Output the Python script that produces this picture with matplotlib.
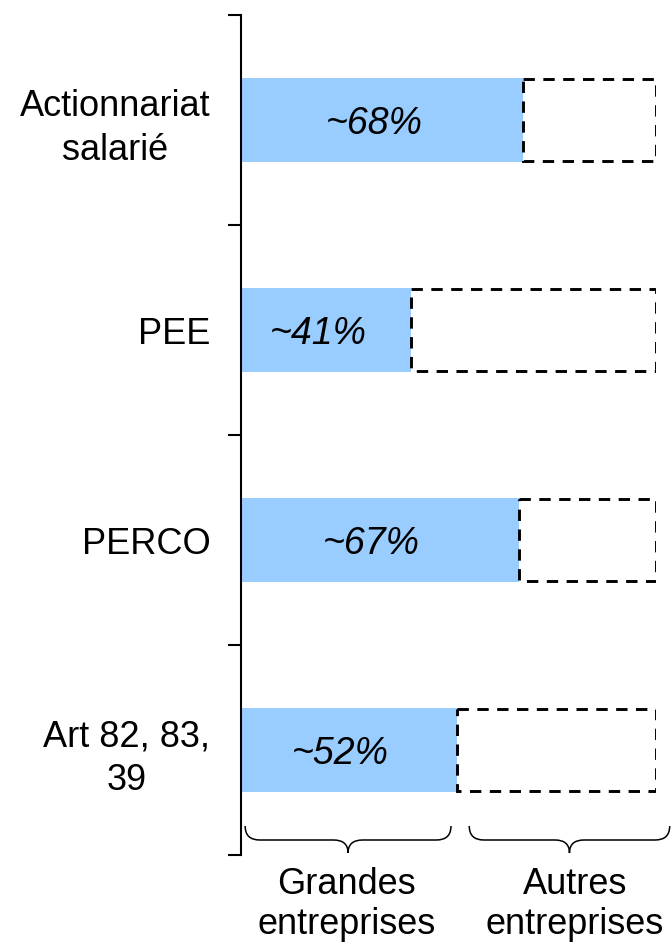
import matplotlib
matplotlib.use("Agg")
import matplotlib.pyplot as plt
from matplotlib.path import Path
from matplotlib.patches import PathPatch
import matplotlib.transforms as mtransforms

categories = ["Actionnariat\nsalarié", "PEE", "PERCO", "Art 82, 83,\n39"]
grandes = [68, 41, 67, 52]
value_labels = ["~68%", "~41%", "~67%", "~52%"]
groups = ["Grandes\nentreprises", "Autres\nentreprises"]

plt.rcParams["font.family"] = ["Liberation Sans", "DejaVu Sans"]
BLUE = "#99CCFF"
FS = 26

W, H = 671, 946
fig = plt.figure(figsize=(W / 100, H / 100), dpi=100)
ax = fig.add_axes([241 / W, 1 - 855 / H, (656 - 241) / W, (855 - 15) / H])

pos = [i + 0.5 for i in range(len(categories))]
ax.barh(pos, grandes, height=0.4, color=BLUE, edgecolor="none")
ax.barh(pos, [100 - g for g in grandes], left=grandes, height=0.39,
        fill=False, edgecolor="black", linewidth=2.1, linestyle=(0, (3.9, 2.9)))

for p, g, lab in zip(pos, grandes, value_labels):
    ax.text(g / 2 - 2, p + 0.02, lab, ha="center", va="center",
            fontsize=FS + 1, style="italic")

ax.set_xlim(0, 100)
ax.set_ylim(len(categories), 0)
for s in ["top", "right", "bottom"]:
    ax.spines[s].set_visible(False)
ax.spines["left"].set_linewidth(1.5)
ax.set_xticks([])
ax.set_yticks(range(len(categories) + 1))
ax.set_yticklabels([])
ax.tick_params(axis="y", which="major", length=9.5, width=1.5, direction="out")
ax.set_yticks(pos, minor=True)
ax.set_yticklabels(categories, minor=True, fontsize=FS)
ax.tick_params(axis="y", which="minor", length=0, pad=22)
for t in ax.get_yticklabels(minor=True):
    t.set_multialignment("center")
    t.set_linespacing(1.35)

# braces under the chart
trans = mtransforms.blended_transform_factory(ax.transData, ax.transAxes)
ah = 840.0


def brace(x0, x1):
    ytop = 29 / ah
    yline = 15 / ah
    ytip = 2 / ah
    r = 3.5
    xm = (x0 + x1) / 2
    verts = [(x0, ytop), (x0, yline), (x0 + r, yline),
             (xm - r, yline), (xm, yline), (xm, ytip),
             (xm, yline), (xm + r, yline),
             (x1 - r, yline), (x1, yline), (x1, ytop)]
    codes = [Path.MOVETO, Path.CURVE3, Path.CURVE3,
             Path.LINETO, Path.CURVE3, Path.CURVE3,
             Path.CURVE3, Path.CURVE3,
             Path.LINETO, Path.CURVE3, Path.CURVE3]
    ax.add_patch(PathPatch(Path(verts, codes), fill=False, lw=1.1,
                           edgecolor="black", transform=trans, clip_on=False))


brace(1, 50.6)
brace(55, 103.3)

ax.text(25.5, -12 / ah, groups[0], transform=trans, ha="center", va="top",
        fontsize=FS, linespacing=1.2)
ax.text(80.5, -12 / ah, groups[1], transform=trans, ha="center", va="top",
        fontsize=FS, linespacing=1.2)

fig.savefig("out.png", dpi=100)
